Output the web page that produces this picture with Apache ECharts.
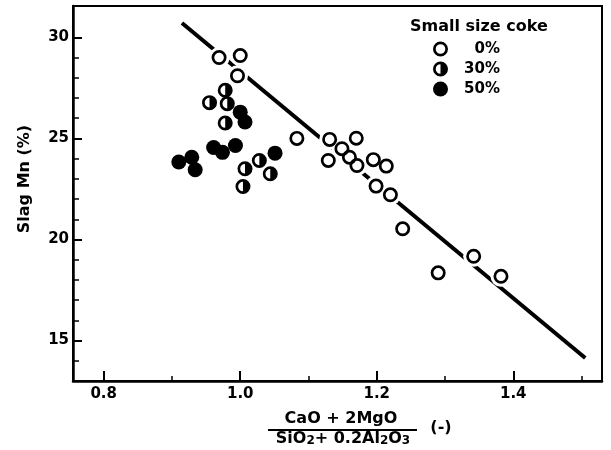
<!DOCTYPE html>
<html><head><meta charset="utf-8">
<script src="https://cdn.jsdelivr.net/npm/echarts@6/dist/echarts.min.js"></script>
<style>html,body{margin:0;padding:0;background:#fff}#c{width:611px;height:450px}</style>
</head><body><div id="c"></div>
<script>
// ---- data ----
const coke0 = [[0.969,29.0],[1.000,29.1],[0.996,28.1],[1.083,25.0],[1.131,24.95],[1.170,25.01],
  [1.149,24.49],[1.160,24.07],[1.129,23.91],[1.171,23.66],[1.195,23.95],[1.214,23.63],
  [1.199,22.64],[1.220,22.21],[1.238,20.53],[1.342,19.17],[1.290,18.35],[1.382,18.18]];
const coke30 = [[0.978,27.38],[0.955,26.77],[0.981,26.72],[0.978,25.76],[1.007,23.5],
  [1.028,23.91],[1.044,23.25],[1.004,22.62]];
const coke50 = [[0.910,23.83],[0.929,24.07],[0.934,23.45],[0.961,24.55],[0.974,24.31],
  [0.993,24.65],[1.000,26.30],[1.007,25.81],[1.051,24.27]];
const trendLine = [[0.9146,30.71],[1.5055,14.14]];
const xMajorTicks = [0.8,1.0,1.2,1.4];
const xMinorTicks = [0.9,1.1,1.3,1.5];
const yMajorTicks = [15,20,25,30];
const yMinorTicks = [14,16,17,18,19,21,22,23,24,26,27,28,29];
const legendNames = ['0%','30%','50%'];
const legendTitle = 'Small size coke';
const yName = 'Slag Mn (%)';
const xNumerator = 'CaO + 2MgO';
const xDenominator = 'SiO{s|2}+ 0.2Al{s|2}O{s|3}';
const xUnit = '(-)';

const FONT = 'DejaVu Sans';
const ringPath = 'path://M10 0A10 10 0 1 1 10 20A10 10 0 1 1 10 0ZM10 3.6A6.4 6.4 0 1 0 10 16.4A6.4 6.4 0 1 0 10 3.6Z';
const halfPath = 'path://M10 0A10 10 0 1 1 10 20A10 10 0 1 1 10 0ZM10 3.6A6.4 6.4 0 0 0 10 16.4L10 3.6Z';
const MS = 15;

const chart = echarts.init(document.getElementById('c'), null, {renderer:'canvas'});
const axisCommon = {
  type:'value', splitLine:{show:false}
};
const lbl = {fontFamily:FONT, fontWeight:'bold', fontSize:15, color:'#000'};
const mk = {color:'#000', opacity:1};
const option = {
  animation:false,
  backgroundColor:'#fff',
  grid:{left:73, right:9, top:6, bottom:69, show:true, borderColor:'#000', borderWidth:2, backgroundColor:'transparent'},
  xAxis:[
    Object.assign({}, axisCommon, {min:0.755, max:1.53,
      axisLine:{show:true, lineStyle:{color:'#000', width:2.5}},
      axisTick:{show:true, inside:true, length:10, customValues:xMajorTicks, lineStyle:{color:'#000', width:2}},
      axisLabel:Object.assign({show:true, margin:6, customValues:xMajorTicks, formatter:v=>v.toFixed(1)}, lbl)}),
    Object.assign({}, axisCommon, {min:0.755, max:1.53, position:'bottom', offset:0,
      axisLine:{show:false},
      axisTick:{show:true, inside:true, length:5, customValues:xMinorTicks, lineStyle:{color:'#000', width:1.5}},
      axisLabel:{show:false}})
  ],
  yAxis:[
    Object.assign({}, axisCommon, {min:13, max:31.55,
      axisLine:{show:true, lineStyle:{color:'#000', width:2.5}},
      axisTick:{show:true, inside:true, length:9, customValues:yMajorTicks, lineStyle:{color:'#000', width:2}},
      axisLabel:Object.assign({show:true, margin:4, customValues:yMajorTicks}, lbl)}),
    Object.assign({}, axisCommon, {min:13, max:31.55, position:'left', offset:0,
      axisLine:{show:false},
      axisTick:{show:true, inside:true, length:6, customValues:yMinorTicks, lineStyle:{color:'#000', width:1.5}},
      axisLabel:{show:false}})
  ],
  legend:{
    data:legendNames, orient:'vertical', left:433, top:41.5, itemWidth:15, itemHeight:15, itemGap:5, padding:0,
    selectedMode:false, formatter:n=>'{a|'+n+'}', itemStyle:{opacity:1},
    textStyle:{rich:{a:{width:47, align:'right', fontSize:15, fontWeight:'bold', fontFamily:FONT, color:'#000', lineHeight:15}}}
  },
  series:[
    {type:'line', name:'trend', z:1, data:trendLine, showSymbol:false, symbol:'none', silent:true,
      lineStyle:{color:'#000', width:4, cap:'butt'}},
    {type:'scatter', name:'halo', z:3, data:coke0.concat(coke30, coke50), symbol:'circle', symbolSize:21, silent:true,
      itemStyle:{color:'#fff', opacity:1}},
    {type:'scatter', name:legendNames[0], z:5, data:coke0, symbol:ringPath, symbolSize:MS, itemStyle:mk},
    {type:'scatter', name:legendNames[1], z:5, data:coke30, symbol:halfPath, symbolSize:MS, itemStyle:mk},
    {type:'scatter', name:legendNames[2], z:5, data:coke50, symbol:'circle', symbolSize:MS, itemStyle:mk}
  ],
  graphic:[
    {type:'text', left:410, top:19, style:{text:legendTitle, font:'bold 16px "'+FONT+'"', fill:'#000'}},
    {type:'text', x:25, y:179, rotation:Math.PI/2, style:{text:yName, font:'bold 16px "'+FONT+'"', fill:'#000', align:'center', verticalAlign:'middle'}},
    {type:'text', x:341, y:419, style:{text:xNumerator, font:'bold 16px "'+FONT+'"', fill:'#000', align:'center', verticalAlign:'middle'}},
    {type:'line', shape:{x1:268, y1:430, x2:417, y2:430}, style:{stroke:'#000', lineWidth:2}},
    {type:'text', x:343, y:439, style:{text:xDenominator, fill:'#000', align:'center', verticalAlign:'middle',
      font:'bold 16px "'+FONT+'"',
      rich:{s:{fontSize:12, fontWeight:'bold', fontFamily:FONT, verticalAlign:'bottom', lineHeight:14}}}},
    {type:'text', x:441, y:428, style:{text:xUnit, font:'bold 16px "'+FONT+'"', fill:'#000', align:'center', verticalAlign:'middle'}}
  ]
};
chart.setOption(option);
</script>
</body></html>
